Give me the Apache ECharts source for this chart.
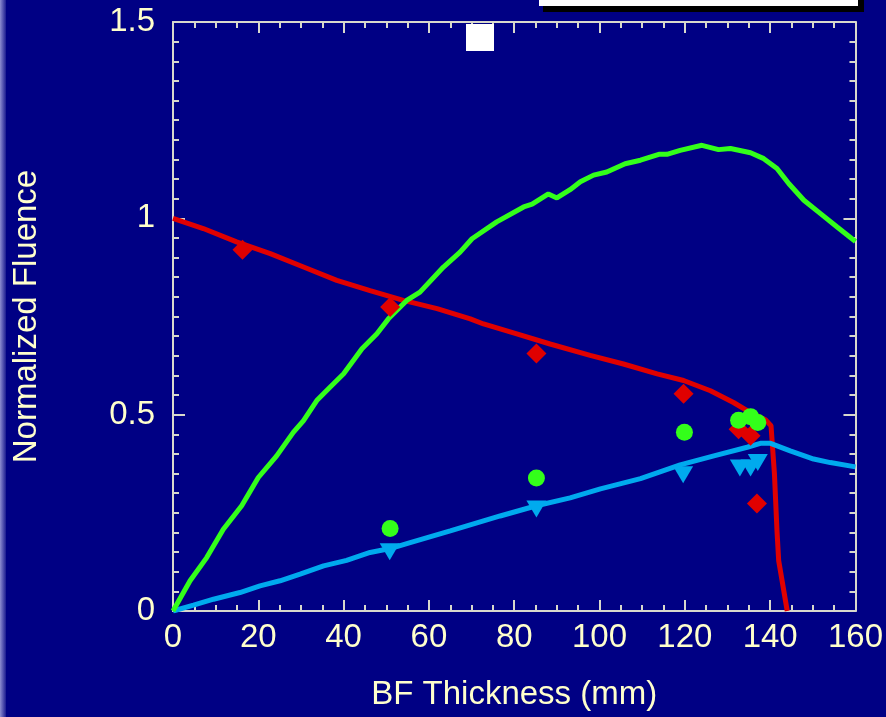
<!DOCTYPE html>
<html>
<head>
<meta charset="utf-8">
<script src="https://cdn.jsdelivr.net/npm/echarts@6/dist/echarts.min.js"></script>
<style>
html,body{margin:0;padding:0;background:#000084;}
#chart{width:886px;height:717px;}
</style>
</head>
<body>
<div id="chart"></div>
<script>
// ---- Data ----
const xTicks = [0, 20, 40, 60, 80, 100, 120, 140, 160];
const yTicks = [0, 0.5, 1, 1.5];

const redLineX = [0, 7.1, 14.9, 22.8, 30.6, 38.4, 46.2, 54.0, 61.9, 69.7, 72.8, 80.6, 88.4, 97.8, 105.6, 113.5, 119.7, 126.0, 131.4, 135.4, 138.9, 140.2, 141.0, 141.6, 142.0, 144.0];
const redLineY = [1.0, 0.974, 0.940, 0.910, 0.876, 0.842, 0.816, 0.791, 0.770, 0.744, 0.731, 0.706, 0.680, 0.651, 0.629, 0.604, 0.587, 0.561, 0.531, 0.505, 0.487, 0.472, 0.35, 0.204, 0.128, 0];

const greenLineX = [0, 4.0, 7.9, 11.8, 16.1, 20.0, 24.3, 28.2, 30.6, 33.7, 36.8, 40.0, 44.3, 47.8, 50.5, 54.8, 57.9, 63.4, 67.3, 70.1, 75.9, 82.2, 84.2, 88.0, 90.0, 93.1, 95.5, 98.6, 101.7, 106.0, 109.6, 113.9, 115.8, 118.9, 124.0, 127.9, 130.7, 135.4, 138.5, 141.6, 144.4, 147.9, 151.8, 155.7, 160];
const greenLineY = [0, 0.077, 0.136, 0.208, 0.268, 0.340, 0.395, 0.455, 0.485, 0.536, 0.570, 0.604, 0.668, 0.706, 0.744, 0.791, 0.812, 0.876, 0.914, 0.948, 0.991, 1.029, 1.036, 1.062, 1.052, 1.073, 1.093, 1.110, 1.118, 1.139, 1.148, 1.163, 1.163, 1.173, 1.186, 1.175, 1.178, 1.167, 1.152, 1.127, 1.088, 1.046, 1.012, 0.978, 0.941];

const blueLineX = [0, 4.8, 9.5, 15.7, 20.4, 25.1, 29.8, 35.3, 40.7, 46.2, 50.9, 55.6, 65.0, 76.7, 85.2, 93.1, 100.2, 109.6, 118.9, 126.8, 134.6, 137.7, 140.1, 144.7, 150.2, 154.1, 160];
const blueLineY = [0, 0.015, 0.030, 0.047, 0.064, 0.077, 0.094, 0.115, 0.129, 0.149, 0.159, 0.174, 0.204, 0.242, 0.268, 0.288, 0.311, 0.337, 0.372, 0.395, 0.417, 0.427, 0.427, 0.408, 0.387, 0.378, 0.367];

const redPtsX = [16.3, 50.9, 85.2, 119.7, 132.6, 135.4, 136.9];
const redPtsY = [0.920, 0.774, 0.656, 0.553, 0.463, 0.446, 0.274];

const greenPtsX = [50.9, 85.2, 119.9, 132.6, 135.4, 137.1];
const greenPtsY = [0.210, 0.339, 0.455, 0.486, 0.495, 0.480];

const bluePtsX = [50.8, 85.2, 119.6, 132.9, 135.4, 137.1];
const bluePtsY = [0.151, 0.260, 0.347, 0.364, 0.364, 0.378];

// ---- Build chart ----
const pairs = (xs, ys) => xs.map((x, i) => [x, ys[i]]);
const TXT = '#FFFFCC';
const AXC = '#D8D8CC';
const FONT = 'Liberation Sans, Arial, sans-serif';
const RED = '#E00000', GREEN = '#33FF1A', BLUE = '#00AAEE';

function xAx(pos, showLabel) {
  return {
    type: 'value', position: pos, min: 0, max: 160, interval: 20,
    name: showLabel ? 'BF Thickness (mm)' : '',
    nameLocation: 'middle', nameGap: 67,
    nameTextStyle: { color: TXT, fontSize: 33, fontFamily: FONT },
    axisLine: { show: true, onZero: false, lineStyle: { color: AXC, width: 2 } },
    axisTick: { show: true, inside: true, length: 11, lineStyle: { color: AXC, width: 2 } },
    minorTick: { show: true, splitNumber: 4, length: 6, lineStyle: { color: AXC, width: 2 } },
    axisLabel: { show: showLabel, color: TXT, fontSize: 33, fontFamily: FONT, margin: 10,
      formatter: v => xTicks.includes(v) ? String(v) : '' },
    splitLine: { show: false }
  };
}
function yAx(pos, showLabel) {
  return {
    type: 'value', position: pos, min: 0, max: 1.5, interval: 0.5,
    name: showLabel ? 'Normalized Fluence' : '',
    nameLocation: 'middle', nameGap: 130, nameRotate: 90,
    nameTextStyle: { color: TXT, fontSize: 33, fontFamily: FONT },
    axisLine: { show: true, onZero: false, lineStyle: { color: AXC, width: 2 } },
    axisTick: { show: true, inside: true, length: 12, lineStyle: { color: AXC, width: 2 } },
    minorTick: { show: true, splitNumber: 10, length: 6, lineStyle: { color: AXC, width: 2 } },
    axisLabel: { show: showLabel, color: TXT, fontSize: 33, fontFamily: FONT, margin: 18,
      padding: [0, 0, 6, 0],
      formatter: v => yTicks.includes(v) ? String(v) : '' },
    splitLine: { show: false }
  };
}

const chart = echarts.init(document.getElementById('chart'), null, { renderer: 'canvas' });
chart.setOption({
  backgroundColor: '#000084',
  animation: false,
  grid: { left: 173, right: 30, top: 22, bottom: 106, containLabel: false },
  xAxis: [xAx('bottom', true), xAx('top', false)],
  yAxis: [yAx('left', true), yAx('right', false)],
  graphic: [
    { type: 'rect', left: 0, top: 0, shape: { width: 6, height: 717 }, z: 0,
      style: { fill: new echarts.graphic.LinearGradient(0, 0, 1, 0, [
        { offset: 0, color: '#8C8CD0' }, { offset: 1, color: '#1a1a90' }]) } },
    { type: 'rect', shape: { x: 543, y: 0, width: 321, height: 12 }, style: { fill: '#000000' }, z: 10 },
    { type: 'rect', shape: { x: 539, y: 0, width: 319, height: 6 }, style: { fill: '#FFFFFF' }, z: 11 },
    { type: 'rect', shape: { x: 466, y: 24, width: 28, height: 27 }, style: { fill: '#FFFFFF' }, z: 11 }
  ],
  series: [
    { type: 'line', name: 'red', data: pairs(redLineX, redLineY), showSymbol: false, symbol: 'none',
      lineStyle: { color: RED, width: 5 }, z: 2 },
    { type: 'line', name: 'blue', data: pairs(blueLineX, blueLineY), showSymbol: false, symbol: 'none',
      lineStyle: { color: BLUE, width: 5 }, z: 3 },
    { type: 'line', name: 'green', data: pairs(greenLineX, greenLineY), showSymbol: false, symbol: 'none',
      lineStyle: { color: GREEN, width: 5 }, z: 4 },
    { type: 'scatter', data: pairs(redPtsX, redPtsY), symbol: 'diamond', symbolSize: [20, 20],
      itemStyle: { color: RED, opacity: 1 }, z: 5 },
    { type: 'scatter', data: pairs(bluePtsX, bluePtsY), symbol: 'triangle', symbolRotate: 180, symbolSize: [20, 17],
      itemStyle: { color: BLUE, opacity: 1 }, z: 6 },
    { type: 'scatter', data: pairs(greenPtsX, greenPtsY), symbol: 'circle', symbolSize: 17,
      itemStyle: { color: GREEN, opacity: 1 }, z: 7 }
  ]
});
</script>
</body>
</html>
